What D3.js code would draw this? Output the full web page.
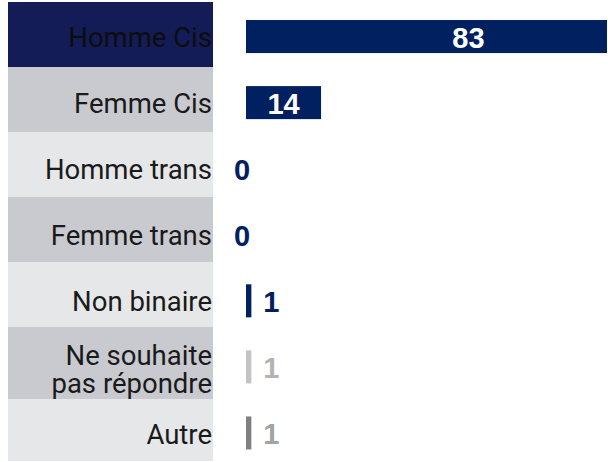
<!DOCTYPE html>
<meta charset="utf-8">
<script src="https://d3js.org/d3.v7.min.js"></script>
<style>
    body { margin: 0; background: #fff; }
</style>
<body>
    <div id="chart"></div>
</body>
<script>
    // data
    const categories = ["Homme Cis", "Femme Cis", "Homme trans", "Femme trans",
                        "Non binaire", "Ne souhaite pas répondre", "Autre"];
    const labelLines = [["Homme Cis"], ["Femme Cis"], ["Homme trans"], ["Femme trans"],
                        ["Non binaire"], ["Ne souhaite", "pas répondre"], ["Autre"]];
    const values = [83, 14, 0, 0, 1, 1, 1];

    // styles
    const cellFill  = ["#141c58", "#c9cad0", "#e6e7e9", "#c9cad0", "#e6e7e9", "#c9cad0", "#e6e7e9"];
    const barFill   = ["#002060", "#002060", "#002060", "#002060", "#002060", "#c3c3c3", "#808080"];
    const valueFill = ["#ffffff", "#ffffff", "#002060", "#002060", "#002060", "#b3b3b3", "#a3a3a3"];

    const width = 608, height = 462;

    const svg = d3.select("#chart")
        .append("svg")
        .attr("width", width)
        .attr("height", height);

    svg.append("clipPath").attr("id", "clip")
        .append("rect")
        .attr("x", 0).attr("y", 0)
        .attr("width", 607).attr("height", height);

    const x = d3.scaleLinear()
        .domain([0, d3.max(values)])
        .range([246, 691]);

    const y = d3.scaleBand()
        .domain(categories)
        .range([3.5, 466])
        .paddingInner(0.5)
        .paddingOuter(0.25);

    // label cells (the two-line one is a bit taller)
    let cellTop = 2;
    const cells = categories.map((c, i) => {
        const h = labelLines[i].length > 1 ? 72 : 65;
        const cell = {cat: c, y0: cellTop, y1: Math.min(cellTop + h, 461)};
        cellTop += h;
        return cell;
    });

    svg.append("g")
        .selectAll("rect")
        .data(cells)
        .join("rect")
            .attr("x", 8)
            .attr("y", d => d.y0)
            .attr("width", 205)
            .attr("height", d => d.y1 - d.y0)
            .attr("fill", (d, i) => cellFill[i]);

    const lineH = 28;
    svg.append("g")
        .selectAll("text")
        .data(categories)
        .join("text")
            .attr("text-anchor", "end")
            .style("font-family", "Roboto, 'Noto Sans', sans-serif")
            .style("font-size", "27.5px")
            .attr("fill", (d, i) => i === 0 ? "#0d0d0d" : "#1a1a1a")
            .each(function(d, i) {
                const lines = labelLines[i];
                const cy = y(d) + y.bandwidth() / 2 + (lines.length > 1 ? 2.5 : 1);
                d3.select(this).selectAll("tspan")
                    .data(lines)
                    .join("tspan")
                        .attr("x", 212)
                        .attr("y", (l, j) => cy + (j - (lines.length - 1) / 2) * lineH)
                        .attr("dy", "0.35em")
                        .text(l => l);
            });

    // bars
    svg.append("g")
        .attr("clip-path", "url(#clip)")
        .selectAll("rect")
        .data(values)
        .join("rect")
            .attr("x", x(0))
            .attr("y", (d, i) => y(categories[i]))
            .attr("width", d => x(d) - x(0))
            .attr("height", y.bandwidth())
            .attr("fill", (d, i) => barFill[i]);

    // value labels
    svg.append("g")
        .selectAll("text")
        .data(values)
        .join("text")
            .style("font-family", "'Liberation Sans', Arial, sans-serif")
            .style("font-weight", "bold")
            .style("font-size", "29px")
            .attr("fill", (d, i) => valueFill[i])
            .attr("text-anchor", d => x(d) - x(0) > 40 ? "middle" : "start")
            .attr("x", d => {
                if (x(d) - x(0) > 40) return (x(0) + x(d)) / 2;
                return d > 0 ? x(d) + 12 : x(0) - 12;
            })
            .attr("y", (d, i) => y(categories[i]) + y.bandwidth() / 2 + 1)
            .attr("dy", "0.35em")
            .text(d => d);
</script>
